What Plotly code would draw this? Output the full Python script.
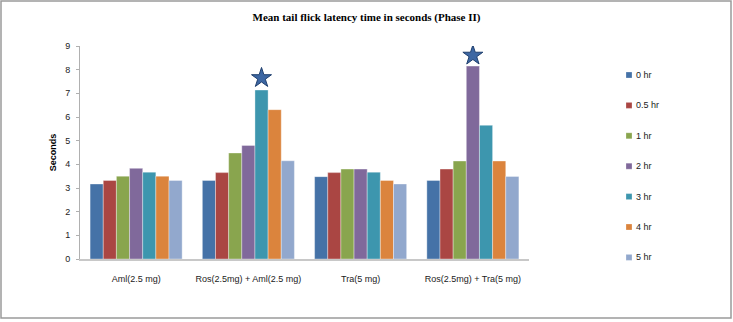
import plotly.graph_objects as go

categories = ["Aml(2.5 mg)", "Ros(2.5mg) + Aml(2.5 mg)", "Tra(5 mg)", "Ros(2.5mg) + Tra(5 mg)"]
series_names = ["0 hr", "0.5 hr", "1 hr", "2 hr", "3 hr", "4 hr", "5 hr"]
hr_0 = [3.17, 3.32, 3.48, 3.32]
hr_05 = [3.32, 3.65, 3.65, 3.80]
hr_1 = [3.50, 4.48, 3.80, 4.14]
hr_2 = [3.83, 4.80, 3.80, 8.15]
hr_3 = [3.67, 7.14, 3.67, 5.65]
hr_4 = [3.50, 6.31, 3.32, 4.14]
hr_5 = [3.32, 4.15, 3.17, 3.49]
series_values = [hr_0, hr_05, hr_1, hr_2, hr_3, hr_4, hr_5]
colors = ["#4572A7", "#AA4643", "#89A54E", "#80699B", "#3D96AE", "#DB843D", "#92A8CD"]
# significance stars: (category index, series index, y position)
star_cat = [1, 3]
star_series = [4, 3]
star_y = [7.65, 8.6]

W, H = 733, 322
ml, mr, mt, mb = 80, 204, 46, 63
bargap = 0.18
n = len(series_names)
pw = W - ml - mr
ph = H - mt - mb

fig = go.Figure()
xs = list(range(len(categories)))
for name, vals, c in zip(series_names, series_values, colors):
    fig.add_trace(go.Bar(
        x=xs, y=vals, name=name, showlegend=False,
        marker=dict(color=c, line=dict(color="rgba(255,255,255,0.6)", width=0.6)),
    ))

bw = (1 - bargap) / n
sx = [c + (s - (n - 1) / 2) * bw for c, s in zip(star_cat, star_series)]
fig.add_trace(go.Scatter(
    x=sx, y=star_y, mode="markers", showlegend=False,
    marker=dict(symbol="star", size=15, color="#3D67A3", line=dict(color="#1F3F6E", width=1)),
))

# custom legend (small squares + text), laid out in pixel units converted to paper
leg_x = 629
leg_y0 = 75
leg_dy = 30.4
sq = 6
for i, (name, c) in enumerate(zip(series_names, colors)):
    cy = leg_y0 + i * leg_dy
    fig.add_shape(type="rect", xref="paper", yref="paper",
                  x0=(leg_x - sq / 2 - ml) / pw, x1=(leg_x + sq / 2 - ml) / pw,
                  y0=1 - (cy + sq / 2 - mt) / ph, y1=1 - (cy - sq / 2 - mt) / ph,
                  fillcolor=c, line=dict(color="rgba(255,255,255,0.5)", width=0.5))
    fig.add_annotation(xref="paper", yref="paper", x=(leg_x + 5 - ml) / pw,
                       y=1 - (cy - mt) / ph, xanchor="left", yanchor="middle",
                       text=name, showarrow=False,
                       font=dict(family="Liberation Sans", size=9, color="#222"))

fig.add_shape(type="rect", xref="paper", yref="paper",
              x0=(1 - ml) / pw, x1=(W - 2 - ml) / pw,
              y0=-(H - 4 - mt - ph) / ph, y1=1 + (mt - 1) / ph,
              line=dict(color="#9a9a9a", width=1.5), fillcolor="rgba(0,0,0,0)", layer="below")

fig.update_layout(
    width=W, height=H,
    margin=dict(l=ml, r=mr, t=mt, b=mb),
    paper_bgcolor="white", plot_bgcolor="white",
    barmode="group", bargap=bargap, bargroupgap=0,
    showlegend=False,
    title=dict(text="<b>Mean tail flick latency time in seconds (Phase II)</b>",
               x=0.5, xref="container", xanchor="center", y=1 - 17 / H, yanchor="middle",
               font=dict(family="Liberation Serif", size=11, color="#000")),
    font=dict(family="Liberation Sans", size=9, color="#222"),
    xaxis=dict(range=[-0.5, len(categories) - 0.5], tickvals=xs, ticktext=categories,
               showgrid=False, zeroline=False, showline=True, linecolor="#c8c8c8", linewidth=2,
               ticks="", tickfont=dict(size=9, color="#222"), ticklabelstandoff=10),
    yaxis=dict(range=[0, 9], dtick=1, showgrid=False, zeroline=False, showline=True,
               linecolor="#b0b0b0", linewidth=1, ticks="outside", ticklen=3, tickcolor="#b0b0b0",
               tickfont=dict(size=9, color="#222"), ticklabelstandoff=4,
               title=dict(text="<b>Seconds</b>", font=dict(size=9, color="#000"), standoff=7)),
)
fig.write_html("out.html")
